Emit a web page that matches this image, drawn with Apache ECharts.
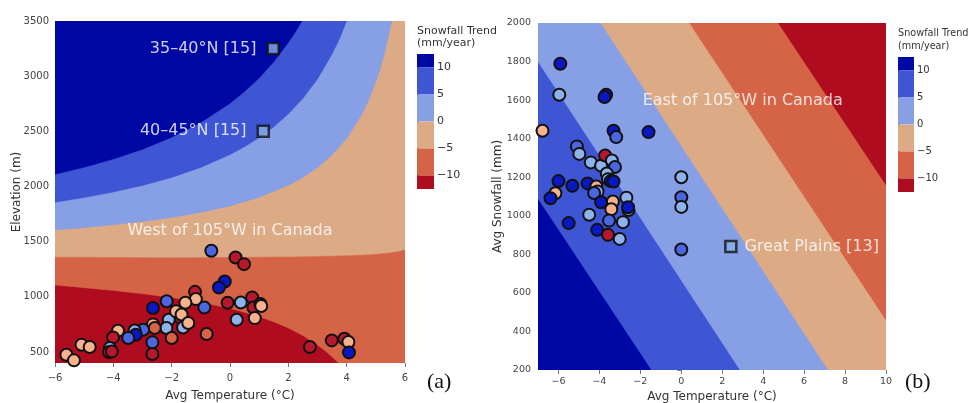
<!DOCTYPE html>
<html><head><meta charset="utf-8">
<script src="https://cdn.jsdelivr.net/npm/echarts@6/dist/echarts.min.js"></script>
<style>html,body{margin:0;padding:0;background:#fff}#c{width:969px;height:403px}</style>
</head><body><div id="c"></div>
<script>
// ---------------- DATA ----------------
// Trend classes: 0: >10, 1: 5..10, 2: 0..5, 3: -5..0, 4: -10..-5, 5: < -10 (mm/year)
const trendBreaks = [12.5, 10, 5, 0, -5, -10, -12.5];
const colorbarTicks = [-10, -5, 0, 5, 10];

// Panel (a): West of 105°W in Canada
const aTemp = [-0.64,0.19,0.48,-0.18,-0.38,-1.20,-1.17,-1.53,-0.88,-0.08,0.37,0.76,0.80,1.04,1.07,0.85,0.23,-0.80,-1.69,-2.10,-1.61,-2.17,-1.85,-1.66,-1.43,-2.18,-2.00,-2.64,-2.64,-2.58,-2.66,-2.66,-2.98,-3.27,-3.23,-3.49,-3.84,-4.01,-4.12,-4.15,-4.05,-5.09,-4.81,-5.61,-5.35,2.74,3.49,3.92,4.06,4.08];
const aElev = [1417,1356,1296,1139,1084,1045,979,946,903,946,948,994,903,935,917,807,792,663,807,792,722,960,868,840,762,717,626,898,750,717,587,482,701,695,656,626,692,632,536,500,505,566,545,475,424,545,605,620,590,496];
const aCls  = [1,5,5,0,0,5,3,3,1,5,2,5,5,5,3,3,2,4,5,2,2,1,3,3,3,2,4,0,3,4,1,5,1,2,0,1,3,5,2,5,5,3,3,3,3,5,5,5,3,0];
const aSqTemp = [1.48, 1.14];
const aSqElev = [3250, 2500];
const aSqLabel = ['35\u201340\u00b0N [15]', '40\u201345\u00b0N [15]'];
const aNoteText = ['West of 105\u00b0W in Canada'];
const aNoteTemp = [0.0];
const aNoteElev = [1600];
// contour boundaries (a)
const aB10T  = [-6,-5,-4,-3,-2,-1,0,0.5,1,1.5,2,2.25,2.47];
const aB10E  = [2111,2174,2248,2337,2446,2581,2754,2861,2984,3130,3304,3404,3500];
const aB5T   = [-6,-5,-4,-3,-2,-1,0,0.5,1,1.5,2,2.5,3,3.5,3.75,4.0];
const aB5E   = [1858,1900,1950,2010,2082,2173,2289,2360,2443,2541,2658,2799,2975,3200,3337,3500];
const aB0T   = [-6,-5,-4,-3,-2,-1,0,1,2,2.5,3,3.5,4,4.5,4.75,5,5.15,5.3,5.45,5.54];
const aB0E   = [1606,1627,1653,1683,1719,1765,1824,1902,2011,2082,2171,2285,2435,2643,2780,2949,3070,3212,3379,3500];
const aBm5T  = [-6,-4,-2,0,2,3,4,4.5,5,5.5,5.75,6];
const aBm5E  = [1362,1360,1358,1360,1365,1369,1376,1381,1389,1402,1412,1430];
const aBm10T = [-6,-5,-4,-3,-2,-1,0,0.5,1,1.5,2,2.5,3,3.25,3.5,3.72];
const aBm10E = [1106,1083,1058,1028,993,950,896,860,820,773,718,649,564,514,457,400];

// Panel (b): East of 105°W in Canada
const bTemp = [-5.91,-5.96,-3.67,-3.75,-6.78,-3.31,-3.18,-1.60,-5.10,-4.98,-4.42,-3.92,-3.72,-3.39,-3.24,-3.64,-3.58,-3.45,-3.31,-6.00,-5.32,-4.58,-4.15,-4.09,-4.26,-6.15,-6.39,-3.92,-3.34,-3.42,-2.68,-2.58,-2.60,-4.50,-5.50,-3.53,-2.85,-4.11,-3.58,-3.01,0,0,0,0];
const bSnow = [1789,1628,1628,1616,1441,1441,1408,1434,1360,1321,1277,1260,1313,1287,1253,1219,1190,1180,1178,1180,1156,1168,1152,1126,1118,1117,1091,1070,1074,1034,1094,1030,1044,1005,962,975,967,927,901,880,1200,1096,1046,825];
const bCls  = [0,2,0,0,3,0,1,0,1,2,2,2,5,2,1,2,2,0,0,0,0,0,3,2,1,3,0,0,3,3,2,2,0,2,0,1,2,0,5,2,2,1,2,1];
const bSqTemp = [2.42];
const bSqSnow = [840];
const bSqLabel = ['Great Plains [13]'];
const bNoteText = ['East of 105\u00b0W in Canada'];
const bNoteTemp = [3.0];
const bNoteSnow = [1597];
// straight contour boundaries (b): end points on the plot edges
const bB10T  = [-7, -1.45];  const bB10S  = [1090, 200];
const bB5T   = [-7, 2.87];   const bB5S   = [1800, 200];
const bB0T   = [-3.93, 7.18]; const bB0S  = [2000, 200];
const bBm5T  = [0.40, 10];   const bBm5S  = [2000, 460];
const bBm10T = [4.74, 10];   const bBm10S = [2000, 1160];

// ---------------- STYLE ----------------
const BAND = ['#0008a4','#3e56d4','#879fe5','#dcab86','#d56446','#b00c20'];
const PT   = ['#0a18c4','#4c66e2','#8eb3ec','#f5b28c','#d7644a','#b8182e'];
const FONT = 'DejaVu Sans';
const A_EXT = {x0:-6, x1:6, y0:400, y1:3500};
const B_EXT = {x0:-7, x1:10, y0:200, y1:2000};

const zip = (xs, ys) => xs.map((x, i) => [x, ys[i]]);
const topL = [A_EXT.x0, A_EXT.y1], topR = [A_EXT.x1, A_EXT.y1], botR = [A_EXT.x1, A_EXT.y0], botL = [A_EXT.x0, A_EXT.y0];
const polysA = [
  [botL, botR, topR, topL],
  zip(aBm10T, aBm10E).concat([botR, topR, topL]),
  zip(aBm5T, aBm5E).concat([topR, topL]),
  zip(aB0T, aB0E).concat([topL]),
  zip(aB5T, aB5E).concat([topL]),
  zip(aB10T, aB10E).concat([topL])
];
const colorsA = [BAND[5], BAND[4], BAND[3], BAND[2], BAND[1], BAND[0]];
const tl = [B_EXT.x0, B_EXT.y1], tr = [B_EXT.x1, B_EXT.y1], br = [B_EXT.x1, B_EXT.y0], bl = [B_EXT.x0, B_EXT.y0];
const polysB = [
  [bl, br, tr, tl],
  zip(bB10T, bB10S).concat([br, tr, tl]),
  zip(bB5T, bB5S).concat([br, tr, tl]),
  zip(bB0T, bB0S).concat([br, tr]),
  zip(bBm5T, bBm5S).concat([tr]),
  zip(bBm10T, bBm10S).concat([tr])
];
const colorsB = BAND.slice();

const fmt = v => (v < 0 ? '\u2212' + Math.abs(v) : String(v));

function bandSeries(polys, colors, xi, yi) {
  return {
    type: 'custom', xAxisIndex: xi, yAxisIndex: yi, silent: true, z: 1, clip: true,
    data: polys.map((p, i) => [i, 0]),
    renderItem: (params, api) => ({
      type: 'polygon',
      shape: { points: polys[params.dataIndex].map(p => api.coord(p)) },
      style: { fill: colors[params.dataIndex], stroke: colors[params.dataIndex], lineWidth: 0.5 }
    })
  };
}
function colorbarSeries(xi, yi) {
  const lo = trendBreaks.slice(1), hi = trendBreaks.slice(0, -1);
  return {
    type: 'custom', xAxisIndex: xi, yAxisIndex: yi, silent: true, z: 1,
    data: hi.map((h, i) => [0, h, lo[i]]),
    renderItem: (params, api) => {
      const i = params.dataIndex;
      const a = api.coord([0, hi[i]]), b = api.coord([1, lo[i]]);
      return { type: 'rect', shape: { x: a[0], y: a[1], width: b[0] - a[0], height: b[1] - a[1] },
               style: { fill: BAND[i] } };
    }
  };
}
function pointSeries(xs, ys, cls, xi, yi) {
  return {
    type: 'scatter', xAxisIndex: xi, yAxisIndex: yi, silent: true, z: 3,
    data: xs.map((x, i) => [x, ys[i], cls[i]]),
    symbolSize: 12,
    itemStyle: { color: p => PT[p.value[2]], borderColor: '#111', borderWidth: 2, opacity: 1 }
  };
}
function squareSeries(xs, ys, labels, pos, dist, xi, yi) {
  return {
    type: 'scatter', xAxisIndex: xi, yAxisIndex: yi, silent: true, z: 4,
    symbol: 'rect', symbolSize: 11,
    data: xs.map((x, i) => ({ value: [x, ys[i]], name: labels[i] })),
    itemStyle: { color: '#8aaee8', borderColor: '#111', borderWidth: 2.5 },
    label: { show: true, position: pos, distance: dist, formatter: '{b}', color: '#fff',
             fontSize: 16, fontFamily: FONT }
  };
}
function noteSeries(xs, ys, texts, xi, yi) {
  return {
    type: 'scatter', xAxisIndex: xi, yAxisIndex: yi, silent: true, z: 5,
    symbolSize: 1, itemStyle: { color: 'rgba(0,0,0,0)' },
    data: xs.map((x, i) => ({ value: [x, ys[i]], name: texts[i] })),
    label: { show: true, position: 'inside', formatter: '{b}', color: '#fff', fontSize: 16, fontFamily: FONT }
  };
}
const tickStyle = { color: '#777', width: 1 };
function valAxis(o) {
  return Object.assign({
    type: 'value', splitLine: { show: false }, axisLine: { show: false },
    nameMoveOverlap: false,
    nameLocation: 'middle', nameTextStyle: { color: '#333', fontSize: 12, fontFamily: FONT }
  }, o);
}
function cbAxis(o, fs) {
  return Object.assign({
    type: 'value', position: 'right', min: -12.5, max: 12.5, splitLine: { show: false },
    axisLine: { show: false },
    axisTick: { show: true, length: 2, customValues: colorbarTicks, lineStyle: { color: '#666' } },
    axisLabel: { color: '#333', fontSize: fs, fontFamily: FONT, margin: 3, formatter: fmt, customValues: colorbarTicks }
  }, o);
}
const hidden = (g) => ({ type: 'value', gridIndex: g, min: 0, max: 1, show: false });
const ticksA_y = [500,1000,1500,2000,2500,3000,3500];
const ticksB_x = [-6,-4,-2,0,2,4,6,8,10];

const option = {
  animation: false,
  backgroundColor: '#fff',
  grid: [
    { left: 55, top: 21, width: 350, height: 342, containLabel: false, outerBoundsMode: 'none' },
    { left: 417, top: 54, width: 17, height: 135, containLabel: false, outerBoundsMode: 'none' },
    { left: 538, top: 23, width: 348, height: 347, containLabel: false, outerBoundsMode: 'none' },
    { left: 898, top: 57, width: 16, height: 135, containLabel: false, outerBoundsMode: 'none' }
  ],
  xAxis: [
    valAxis({ gridIndex: 0, min: A_EXT.x0, max: A_EXT.x1, interval: 2, name: 'Avg Temperature (\u00b0C)', nameGap: 27,
      axisTick: { show: true, length: 4, lineStyle: tickStyle },
      axisLabel: { color: '#444', fontSize: 10, fontFamily: FONT, formatter: fmt, margin: 10 } }),
    hidden(1),
    valAxis({ gridIndex: 2, min: B_EXT.x0, max: B_EXT.x1, name: 'Avg Temperature (\u00b0C)', nameGap: 21,
      axisTick: { show: true, length: 4, lineStyle: tickStyle, customValues: ticksB_x },
      axisLabel: { color: '#444', fontSize: 9.5, fontFamily: FONT, formatter: fmt, margin: 7, customValues: ticksB_x } }),
    hidden(3)
  ],
  yAxis: [
    valAxis({ gridIndex: 0, min: A_EXT.y0, max: A_EXT.y1, name: 'Elevation (m)', nameGap: 32,
      axisTick: { show: true, length: 4, lineStyle: tickStyle, customValues: ticksA_y },
      axisLabel: { color: '#444', fontSize: 10, fontFamily: FONT, formatter: fmt, margin: 6, customValues: ticksA_y } }),
    cbAxis({ gridIndex: 1 }, 11),
    valAxis({ gridIndex: 2, min: B_EXT.y0, max: B_EXT.y1, interval: 200, name: 'Avg Snowfall (mm)', nameGap: 34,
      axisTick: { show: true, length: 4, lineStyle: tickStyle },
      axisLabel: { color: '#444', fontSize: 9.5, fontFamily: FONT, formatter: fmt, margin: 7 } }),
    cbAxis({ gridIndex: 3 }, 10)
  ],
  graphic: [
    { type: 'text', left: 417, top: 25, style: { text: 'Snowfall Trend\n(mm/year)', font: '11px "DejaVu Sans"', fill: '#333', lineHeight: 12 } },
    { type: 'text', left: 898, top: 27, style: { text: 'Snowfall Trend\n(mm/year)', font: '9.7px "DejaVu Sans"', fill: '#333', lineHeight: 13 } },
    { type: 'text', left: 427, top: 371, style: { text: '(a)', font: '22px "Liberation Serif"', fill: '#111' } },
    { type: 'text', left: 905, top: 371, style: { text: '(b)', font: '22px "Liberation Serif"', fill: '#111' } }
  ],
  series: [
    bandSeries(polysA, colorsA, 0, 0),
    colorbarSeries(1, 1),
    pointSeries(aTemp, aElev, aCls, 0, 0),
    squareSeries(aSqTemp, aSqElev, aSqLabel, 'left', 10, 0, 0),
    noteSeries(aNoteTemp, aNoteElev, aNoteText, 0, 0),
    bandSeries(polysB, colorsB, 2, 2),
    colorbarSeries(3, 3),
    pointSeries(bTemp, bSnow, bCls, 2, 2),
    squareSeries(bSqTemp, bSqSnow, bSqLabel, 'right', 7, 2, 2),
    noteSeries(bNoteTemp, bNoteSnow, bNoteText, 2, 2)
  ]
};
const chart = echarts.init(document.getElementById('c'));
chart.setOption(option);
</script></body></html>
